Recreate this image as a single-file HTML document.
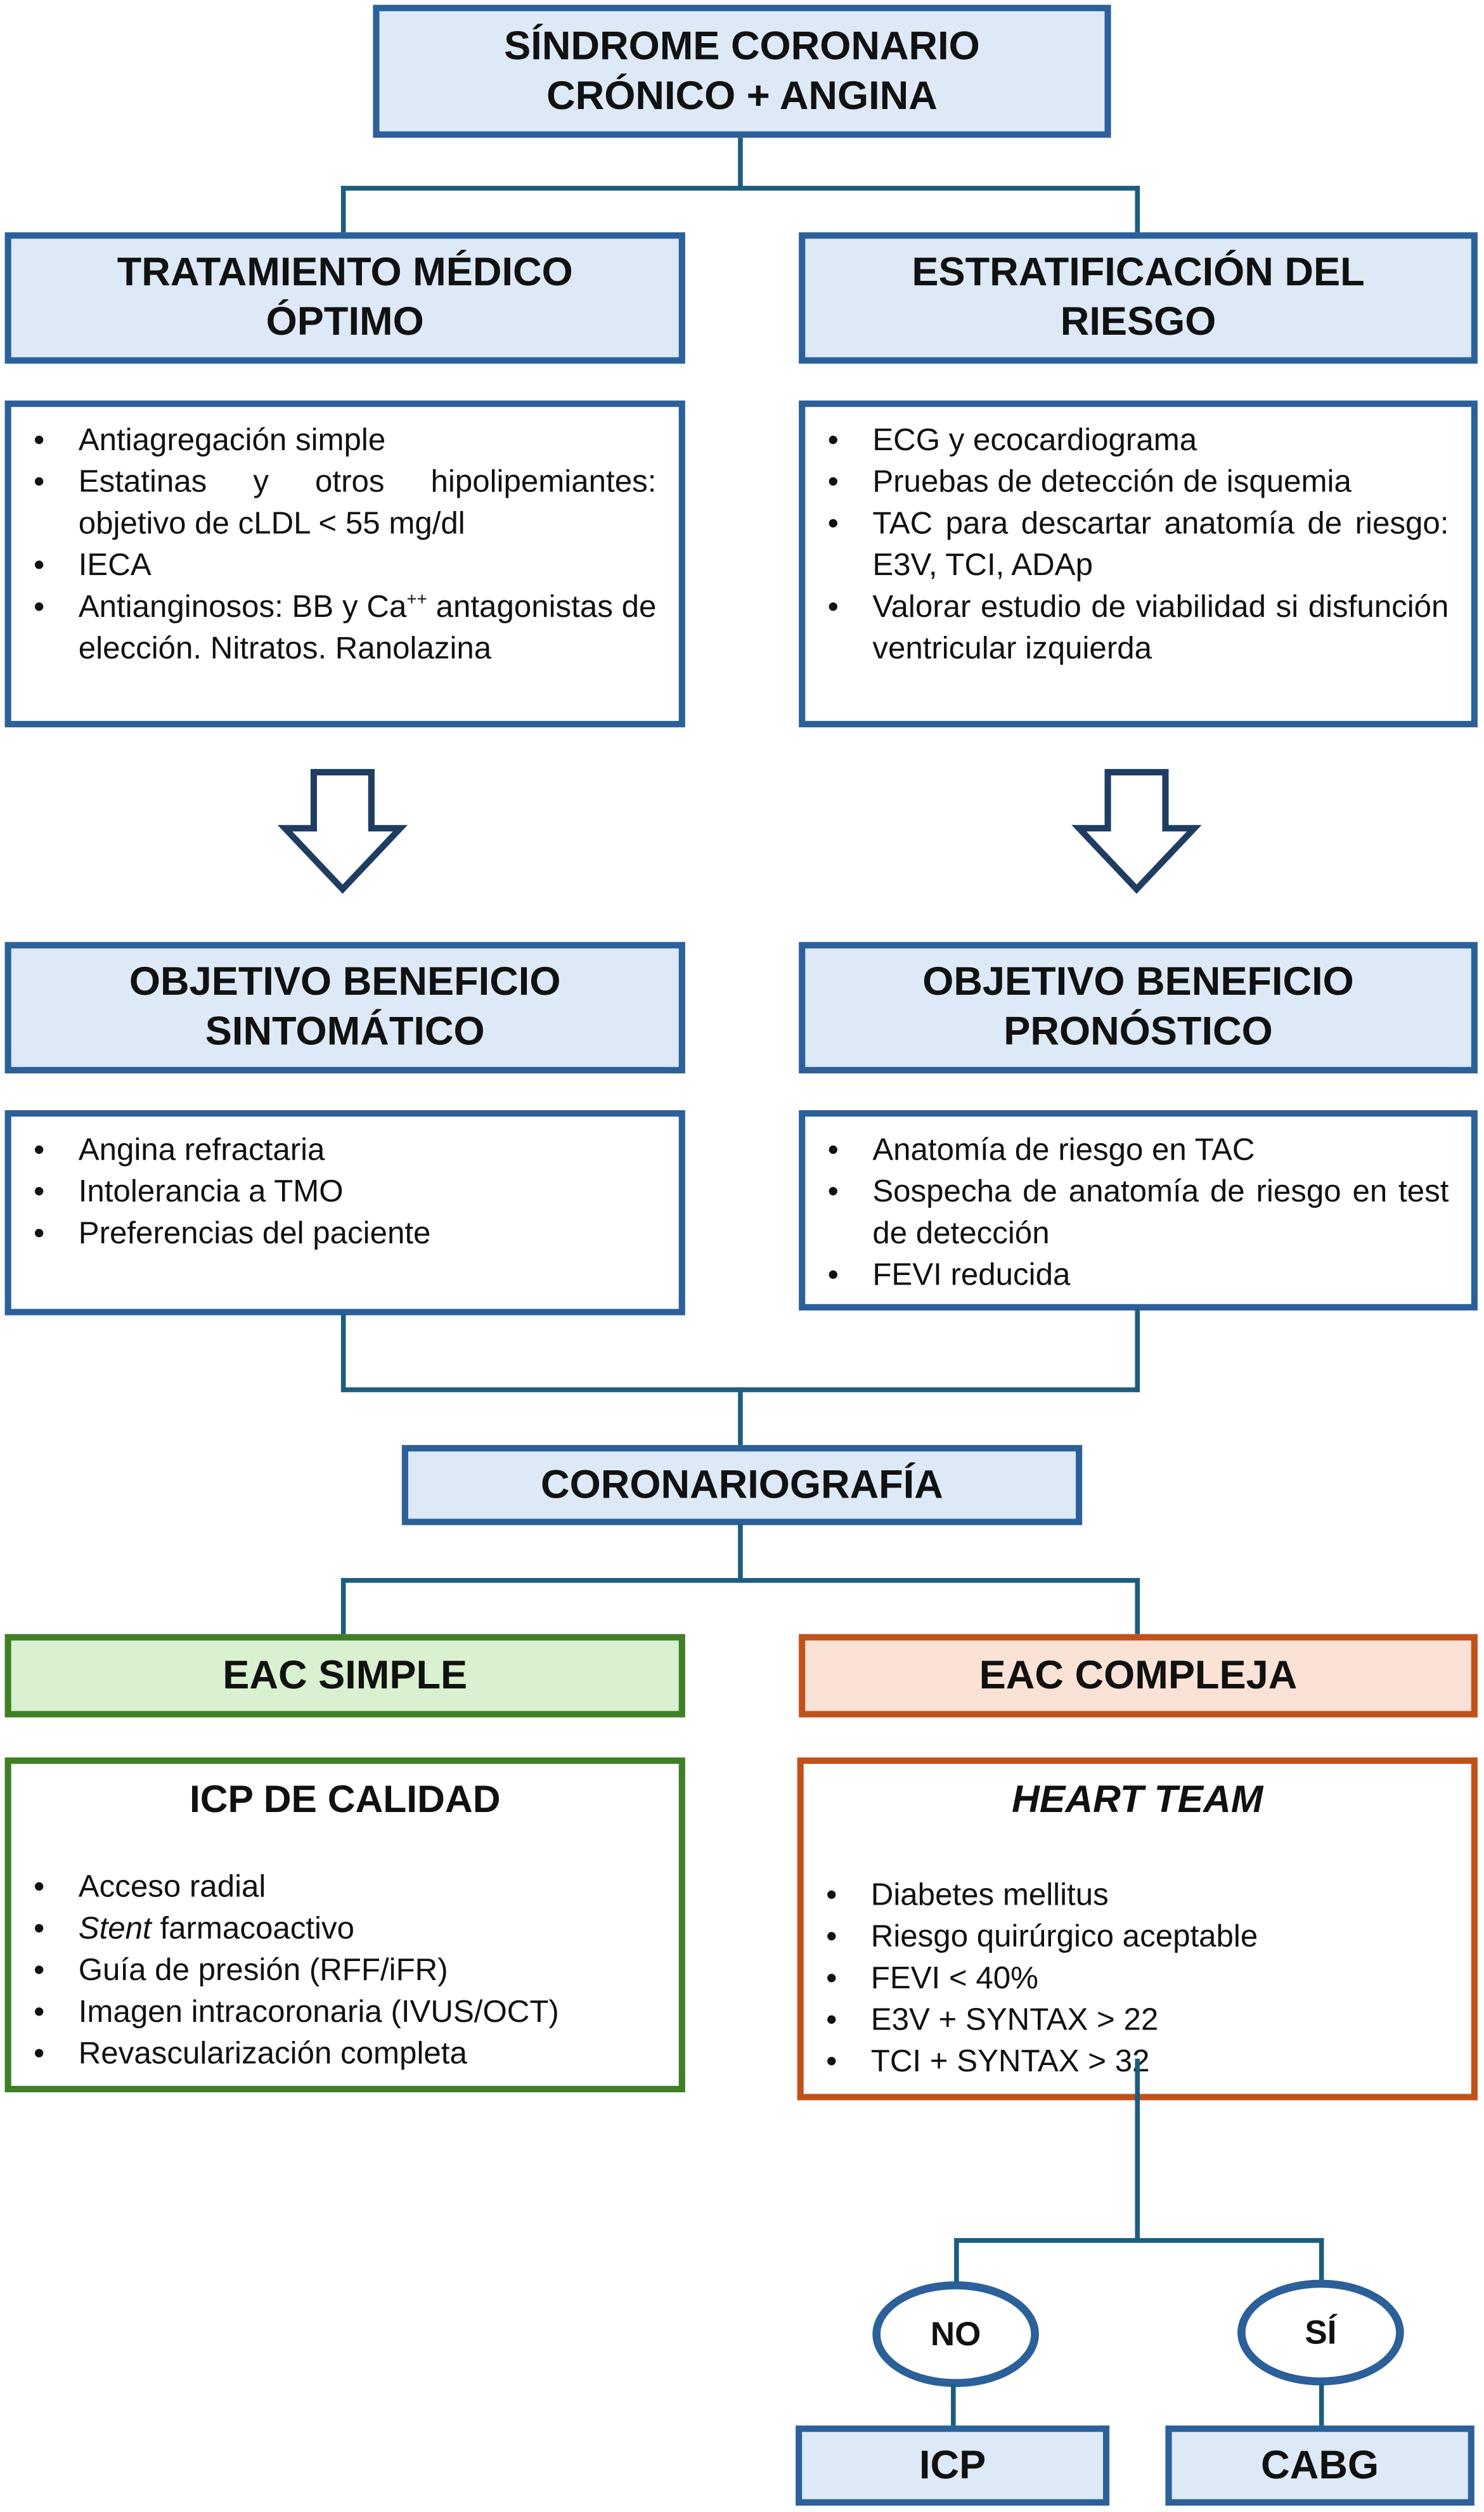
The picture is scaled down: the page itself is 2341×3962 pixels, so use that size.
<!DOCTYPE html>
<html><head><meta charset="utf-8"><style>
html,body{margin:0;padding:0;background:#fff;}
body{width:2341px;height:3962px;overflow:hidden;position:relative;}
#w{position:absolute;left:0;top:0;width:927px;height:1568px;transform-origin:0 0;transform:scale(2.52535,2.5268);font-family:"Liberation Sans",Arial,sans-serif;color:#111;}
.b{position:absolute;box-sizing:border-box;border:4px solid #2b609a;background:#dde9f6;}
.h{display:flex;align-items:center;justify-content:center;text-align:center;font-weight:bold;font-size:25px;line-height:31px;}
.w{background:#fff;}
.g{border-color:#3f7f25;}
.o{border-color:#c1511b;}
.l{position:absolute;background:#1c5d7e;}
.c{padding:8px 14px 0 0;font-size:19.5px;line-height:26px;}
.it{position:relative;padding-left:42px;text-align:justify;text-align-last:left;}
.it:before{content:"•";position:absolute;left:14px;}
.t{text-align:center;font-weight:bold;font-size:24px;padding-left:14px;}
</style></head><body><div id="w">
<div class="b h" style="left:233px;top:3px;width:461px;height:83px;">SÍNDROME CORONARIO<br>CRÓNICO + ANGINA</div>
<div class="l" style="left:461px;top:86px;width:3px;height:32px"></div>
<div class="l" style="left:213px;top:116px;width:499px;height:3px"></div>
<div class="l" style="left:213px;top:116px;width:3px;height:30px"></div>
<div class="l" style="left:709px;top:116px;width:3px;height:30px"></div>
<div class="b h" style="left:3px;top:145px;width:425px;height:82px;">TRATAMIENTO MÉDICO<br>ÓPTIMO</div>
<div class="b h" style="left:499px;top:145px;width:424px;height:82px;">ESTRATIFICACIÓN DEL<br>RIESGO</div>
<div class="b w c" style="left:3px;top:250px;width:425px;height:204px;">
<div class="it">Antiagregación simple</div>
<div class="it">Estatinas y otros hipolipemiantes: objetivo de cLDL &lt; 55 mg/dl</div>
<div class="it">IECA</div>
<div class="it">Antianginosos: BB y Ca<sup style="font-size:11px;line-height:0">++</sup> antagonistas de elección. Nitratos. Ranolazina</div>
</div>
<div class="b w c" style="left:499px;top:250px;width:424px;height:204px;">
<div class="it">ECG y ecocardiograma</div>
<div class="it">Pruebas de detección de isquemia</div>
<div class="it">TAC para descartar anatomía de riesgo: E3V, TCI, ADAp</div>
<div class="it">Valorar estudio de viabilidad si disfunción ventricular izquierda</div>
</div>
<svg style="position:absolute;left:0;top:0" width="927" height="600">
<polygon points="196,482 232,482 232,517 250,517 214,555 178,517 196,517" fill="#fff" stroke="#1f3d63" stroke-width="4" stroke-linejoin="miter"/>
<polygon points="692,482 728,482 728,517 746,517 710,555 674,517 692,517" fill="#fff" stroke="#1f3d63" stroke-width="4" stroke-linejoin="miter"/>
</svg>
<div class="b h" style="left:3px;top:588px;width:425px;height:82px;">OBJETIVO BENEFICIO<br>SINTOMÁTICO</div>
<div class="b h" style="left:499px;top:588px;width:424px;height:82px;">OBJETIVO BENEFICIO<br>PRONÓSTICO</div>
<div class="b w c" style="left:3px;top:693px;width:425px;height:128px;">
<div class="it">Angina refractaria</div>
<div class="it">Intolerancia a TMO</div>
<div class="it">Preferencias del paciente</div>
</div>
<div class="b w c" style="left:499px;top:693px;width:424px;height:125px;">
<div class="it">Anatomía de riesgo en TAC</div>
<div class="it">Sospecha de anatomía de riesgo en test de detección</div>
<div class="it">FEVI reducida</div>
</div>
<div class="l" style="left:213px;top:820px;width:3px;height:49px"></div>
<div class="l" style="left:709px;top:817px;width:3px;height:52px"></div>
<div class="l" style="left:213px;top:866px;width:499px;height:3px"></div>
<div class="l" style="left:461px;top:866px;width:3px;height:37px"></div>
<div class="b h" style="left:251px;top:902px;width:425px;height:50px;">CORONARIOGRAFÍA</div>
<div class="l" style="left:461px;top:951px;width:3px;height:37px"></div>
<div class="l" style="left:213px;top:985px;width:499px;height:3px"></div>
<div class="l" style="left:213px;top:985px;width:3px;height:36px"></div>
<div class="l" style="left:709px;top:985px;width:3px;height:36px"></div>
<div class="b h g" style="left:3px;top:1020px;width:425px;height:52px;background:#d9f1d0;">EAC SIMPLE</div>
<div class="b h o" style="left:499px;top:1020px;width:424px;height:52px;background:#fbe2d6;">EAC COMPLEJA</div>
<div class="b w c g" style="left:3px;top:1097px;width:425px;height:209px;">
<div class="t" style="margin-top:2px;margin-bottom:28px">ICP DE CALIDAD</div>
<div class="it">Acceso radial</div>
<div class="it"><i>Stent</i> farmacoactivo</div>
<div class="it">Guía de presión (RFF/iFR)</div>
<div class="it">Imagen intracoronaria (IVUS/OCT)</div>
<div class="it">Revascularización completa</div>
</div>
<div class="b w c o" style="left:498px;top:1097px;width:425px;height:214px;">
<div class="t" style="margin-top:2px;margin-bottom:33px;font-style:italic">HEART TEAM</div>
<div class="it">Diabetes mellitus</div>
<div class="it">Riesgo quirúrgico aceptable</div>
<div class="it">FEVI &lt; 40%</div>
<div class="it">E3V + SYNTAX &gt; 22</div>
<div class="it">TCI + SYNTAX &gt; 32</div>
</div>
<div class="l" style="left:709px;top:1285px;width:3px;height:115px"></div>
<div class="l" style="left:596px;top:1397px;width:231px;height:3px"></div>
<div class="l" style="left:596px;top:1397px;width:3px;height:30px"></div>
<div class="l" style="left:824px;top:1397px;width:3px;height:30px"></div>
<div class="b h" style="left:545px;top:1424px;width:104px;height:66px;border-radius:50%;background:#fff;border-width:5px;font-size:21px;">NO</div>
<div class="b h" style="left:773px;top:1423px;width:104px;height:66px;border-radius:50%;background:#fff;border-width:5px;font-size:21px;">SÍ</div>
<div class="l" style="left:594px;top:1488px;width:3px;height:27px"></div>
<div class="l" style="left:824px;top:1488px;width:3px;height:27px"></div>
<div class="b h" style="left:497px;top:1514px;width:196px;height:50px;">ICP</div>
<div class="b h" style="left:728px;top:1514px;width:193px;height:50px;">CABG</div>
</div></body></html>
